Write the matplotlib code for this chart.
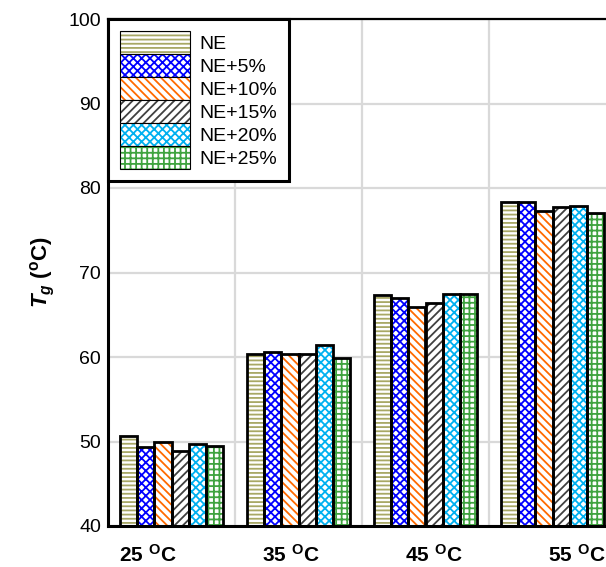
import matplotlib
matplotlib.use("Agg")
import matplotlib.pyplot as plt
from matplotlib.patches import Patch
import numpy as np

# --- data -------------------------------------------------------------
categories = ["25", "35", "45", "55"]
series = ["NE", "NE+5%", "NE+10%", "NE+15%", "NE+20%", "NE+25%"]
tg_ne = [50.6, 60.3, 67.3, 78.3]
tg_ne5 = [49.4, 60.6, 67.0, 78.4]
tg_ne10 = [49.9, 60.3, 65.9, 77.3]
tg_ne15 = [48.9, 60.4, 66.4, 77.8]
tg_ne20 = [49.7, 61.4, 67.4, 77.9]
tg_ne25 = [49.5, 59.9, 67.5, 77.1]
values = [tg_ne, tg_ne5, tg_ne10, tg_ne15, tg_ne20, tg_ne25]

hatch_colors = ["#A8A865", "#0000FF", "#FF6A00", "#404040", "#00B0F0", "#3FA33F"]
hatches = ["----", "xxxx", "\\\\\\\\", "////", "xxxx", "+++"]

# --- style --------------------------------------------------------------
plt.rcParams["font.family"] = ["Liberation Sans", "DejaVu Sans"]
plt.rcParams["mathtext.fontset"] = "custom"
plt.rcParams["mathtext.rm"] = "Liberation Sans:bold"
plt.rcParams["mathtext.bf"] = "Liberation Sans:bold"
plt.rcParams["mathtext.it"] = "Liberation Sans:italic:bold"
plt.rcParams["hatch.linewidth"] = 1.3

fig = plt.figure(figsize=(6.06, 5.67), dpi=100)
ax = fig.add_axes([108 / 606, 1 - 526 / 567, 508 / 606, 507 / 567])

n = len(series)
w = 0.134
x = np.arange(len(categories))
legend_handles = []
for j, (vals, hc, h) in enumerate(zip(values, hatch_colors, hatches)):
    xs = x + (j - (n - 1) / 2) * w
    ax.bar(xs, vals, w, color="white", edgecolor=hc, hatch=h,
           linewidth=0, zorder=2)
    ax.bar(xs, vals, w, fill=False, edgecolor="black", linewidth=2.0, zorder=3)
    legend_handles.append(
        (Patch(facecolor="white", edgecolor=hc, hatch=h, linewidth=0),
         Patch(fill=False, edgecolor="black", linewidth=0.8)))

ax.set_xlim(-0.5, len(categories) - 0.5)
ax.set_ylim(40, 100)
ax.set_yticks(np.arange(40, 101, 10))
ax.tick_params(axis="y", length=0, labelsize=14, pad=5)

# vertical grid at category boundaries
ax.set_xticks(np.arange(len(categories) - 1) + 0.5, minor=True)
ax.grid(True, which="minor", axis="x", color="#D9D9D9", linewidth=1.6)
ax.grid(True, which="major", axis="y", color="#D9D9D9", linewidth=1.6)
ax.set_axisbelow(True)

# category labels (spaced a little wider than the groups, as in the source)
label_start, label_step = -0.19, 1.126
ax.set_xticks(label_start + label_step * x)
ax.set_xticklabels([f"{c} $^{{\\mathbf{{O}}}}$C" for c in categories],
                   fontsize=15, fontweight="bold")
ax.tick_params(axis="x", which="both", length=0, pad=13)

for side in ["left", "bottom"]:
    ax.spines[side].set_linewidth(2.2)
ax.spines["top"].set_linewidth(1.6)
ax.spines["right"].set_visible(False)

ax.set_ylabel("$T_g$ ($^{\\mathrm{o}}$C)", fontsize=16, fontweight="bold",
              labelpad=8)

leg = ax.legend(legend_handles, series, loc="upper left", borderaxespad=0,
                fontsize=14, handlelength=3.6, handleheight=1.45,
                labelspacing=0.0, handletextpad=0.5, borderpad=0.6,
                fancybox=False, framealpha=1, edgecolor="black")
leg.get_frame().set_linewidth(2.2)
leg.set_zorder(5)

fig.savefig("out.png", dpi=100)
